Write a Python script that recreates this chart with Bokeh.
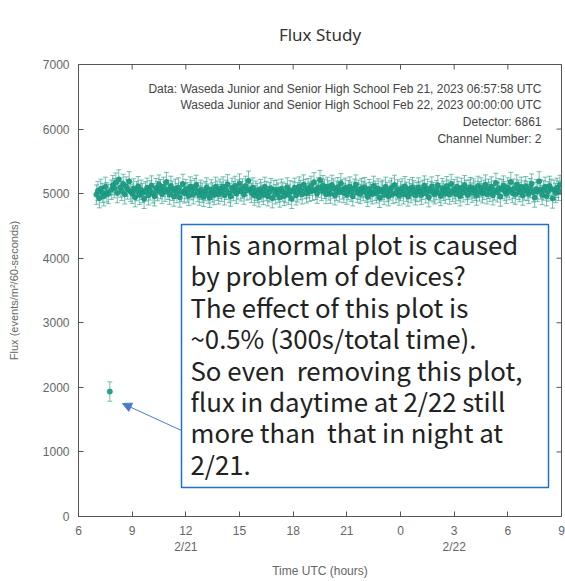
import math
from bokeh.plotting import figure
from bokeh.models import (ColumnDataSource, Whisker, TeeHead, LinearAxis, FixedTicker,
                          Range1d, Label, BoxAnnotation, Arrow, NormalHead)
from bokeh.embed import file_html
from bokeh.resources import INLINE

# ---------------- data ----------------
START_HOUR = 7.0          # first 5-minute bin (UTC hours, Feb 21)
BIN_HOURS = 5.0 / 60.0    # 300 s bins
FLUX_ERR = 150            # typical error bar half-height

flux = [
    4985, 5040, 4930, 5075, 5010, 4960, 5105, 5020, 4995, 1935, 5060, 5130,   # 7h
    5085, 5170, 5010, 5220, 5095, 5045, 5150, 4990, 5110, 5065, 5190, 5030,   # 8h
    5000, 5080, 4945, 5040, 5115, 4980, 5060, 5010, 4920, 5035, 5090, 4975,   # 9h
    5050, 5125, 5005, 4960, 5085, 5040, 5140, 5070, 4995, 5105, 5030, 5180,   # 10h
    5060, 4985, 5120, 5045, 4955, 5075, 5010, 5095, 4940, 5030, 5150, 5005,   # 11h
    5070, 5020, 4965, 5110, 5055, 4990, 5085, 5135, 5025, 4970, 5060, 5015,   # 12h
    4950, 5040, 5095, 5000, 4935, 5065, 5020, 4980, 5105, 5045, 4990, 5075,   # 13h
    5030, 5110, 4975, 5060, 5145, 5010, 4955, 5090, 5040, 5120, 5000, 5065,   # 14h
    5155, 5035, 5080, 4985, 5120, 5050, 5200, 5065, 5010, 5095, 4970, 5045,   # 15h
    5010, 4945, 5070, 5025, 4980, 5105, 5040, 4960, 5020, 5085, 4930, 5055,   # 16h
    4990, 5060, 5015, 4940, 5075, 5030, 4965, 5010, 5095, 4985, 5050, 4920,   # 17h
    5035, 5090, 4975, 5020, 5110, 5055, 4990, 5140, 5070, 5005, 5085, 5030,   # 18h
    5120, 5045, 5175, 5060, 5000, 5095, 5210, 5040, 5130, 5075, 4995, 5105,   # 19h
    5050, 5000, 5135, 5080, 4975, 5045, 5100, 5020, 5160, 5065, 5010, 5090,   # 20h
    4985, 5055, 5110, 5030, 4960, 5075, 5140, 5015, 5060, 4995, 5085, 5040,   # 21h
    5100, 5015, 4950, 5070, 5025, 4990, 5120, 5045, 5005, 5080, 4935, 5035,   # 22h
    5060, 4980, 5105, 5025, 4960, 5050, 5090, 4995, 5135, 5010, 5065, 4970,   # 23h
    5040, 5080, 4990, 5115, 5030, 4955, 5070, 5010, 5100, 5050, 4975, 5025,   # 0h
    5095, 5035, 4980, 5060, 5125, 5005, 5075, 4945, 5040, 5110, 5020, 4990,   # 1h
    5055, 5130, 5010, 4965, 5085, 5045, 5000, 5115, 5060, 4985, 5150, 5030,   # 2h
    5070, 4995, 5105, 5040, 4960, 5090, 5020, 5130, 5055, 4980, 5065, 5100,   # 3h
    5015, 5080, 5045, 4970, 5120, 5035, 5095, 5005, 5060, 5140, 4990, 5075,   # 4h
    5030, 5110, 4975, 5050, 5165, 5020, 5085, 4955, 5070, 5125, 5040, 5000,   # 5h
    5095, 5055, 5180, 5010, 5075, 4985, 5140, 5060, 5025, 5105, 4970, 5050,   # 6h
    5115, 5040, 4995, 5085, 5155, 5020, 4940, 5070, 5030, 5190, 5065, 4980,   # 7h
    5050, 5105, 4960, 5035, 5120, 5075, 4925, 5060, 5010, 5090, 5045, 5135,   # 8h
]

x_ticks = [6, 9, 12, 15, 18, 21, 24, 27, 30, 33]
x_tick_labels = ["6", "9", "12", "15", "18", "21", "0", "3", "6", "9"]
y_ticks = [0, 1000, 2000, 3000, 4000, 5000, 6000, 7000]
date_ticks = [12, 27]
date_labels = ["2/21", "2/22"]

info_lines = [
    "Data: Waseda Junior and Senior High School Feb 21, 2023 06:57:58 UTC",
    "Waseda Junior and Senior High School Feb 22, 2023 00:00:00 UTC",
    "Detector: 6861",
    "Channel Number: 2",
]
note_lines = [
    "This anormal plot is caused",
    "by problem of devices?",
    "The effect of this plot is",
    "~0.5% (300s/total time).",
    "So even\u00a0 removing this plot,",
    "flux in daytime at 2/22 still",
    "more than\u00a0 that in night at",
    "2/21.",
]

hours = [START_HOUR + i * BIN_HOURS for i in range(len(flux))]
src = ColumnDataSource(dict(
    x=hours, y=flux,
    upper=[v + FLUX_ERR for v in flux],
    lower=[v - FLUX_ERR for v in flux],
))

# ---------------- figure ----------------
X0, X1, Y0, Y1 = 6, 33, 0, 7000
W, H = 565, 581
FL, FR, FT, FB = 78, 4, 64, 65
px_x = (X1 - X0) / (W - FL - FR)     # hours per pixel
px_y = (Y1 - Y0) / (H - FT - FB)     # flux per pixel

def dx(px):  # canvas px -> data x
    return X0 + (px - FL) * px_x

def dy(py):  # canvas px -> data y
    return Y1 - (py - FT) * px_y

p = figure(width=W, height=H, x_range=Range1d(X0, X1), y_range=Range1d(Y0, Y1),
           output_backend="svg", toolbar_location=None,
           min_border_left=FL, min_border_right=FR, min_border_top=FT, min_border_bottom=FB,
           background_fill_color="white", border_fill_color="white")
p.grid.visible = False

FRAME = "#555555"
TICKC = "#666666"
LBLFONT = "Liberation Sans"
p.outline_line_color = FRAME
p.outline_line_width = 1

# title
p.title.text = "Flux Study"
p.title.text_font = "Noto Sans"
p.title.text_font_size = "17px"
p.title.text_font_style = "normal"
p.title.text_color = "#333333"
p.title.align = "center"
p.title.text_line_height = 1.0
p.title.standoff = 38

def style_axis(ax):
    ax.axis_line_color = FRAME
    ax.axis_line_width = 1
    ax.major_tick_line_color = FRAME
    ax.major_tick_in = 5
    ax.major_tick_out = 0
    ax.minor_tick_line_color = None
    ax.major_label_text_font = LBLFONT
    ax.major_label_text_color = TICKC
    ax.major_label_text_font_size = "12px"
    ax.axis_label_text_font = LBLFONT
    ax.axis_label_text_font_style = "normal"
    ax.axis_label_text_color = TICKC

p.xaxis.ticker = FixedTicker(ticks=x_ticks)
p.xaxis.major_label_overrides = {t: l for t, l in zip(x_ticks, x_tick_labels)}
p.yaxis.ticker = FixedTicker(ticks=y_ticks)
style_axis(p.xaxis[0])
style_axis(p.yaxis[0])
p.xaxis.major_label_standoff = 9
p.yaxis.major_label_standoff = 9
p.yaxis.axis_label = "Flux (events/m\u00b2/60-seconds)"
p.yaxis.axis_label_text_font_size = "11px"
p.yaxis.axis_label_standoff = 20

# date row under the hour labels
date_ax = LinearAxis(ticker=FixedTicker(ticks=date_ticks),
                     major_label_overrides={t: l for t, l in zip(date_ticks, date_labels)})
style_axis(date_ax)
date_ax.axis_line_color = None
date_ax.major_tick_line_color = None
date_ax.major_label_standoff = 2
date_ax.axis_label = "Time UTC (hours)"
date_ax.axis_label_text_font_size = "12px"
date_ax.axis_label_standoff = 7
p.add_layout(date_ax, "below")

# inward ticks on the top and right edges of the frame
TICK_PX = 5
p.segment(x0=x_ticks, x1=x_ticks, y0=[Y1] * len(x_ticks), y1=[Y1 - TICK_PX * px_y] * len(x_ticks),
          line_color=FRAME, line_width=1)
p.segment(x0=[X1] * len(y_ticks), x1=[X1 - TICK_PX * px_x] * len(y_ticks), y0=y_ticks, y1=y_ticks,
          line_color=FRAME, line_width=1)

# ---------------- data marks ----------------
TEAL = "#17987f"
p.add_layout(Whisker(base="x", upper="upper", lower="lower", source=src,
                     line_color=TEAL, line_alpha=0.6, line_width=1,
                     upper_head=TeeHead(size=5, line_color=TEAL, line_alpha=0.6),
                     lower_head=TeeHead(size=5, line_color=TEAL, line_alpha=0.6)))
p.scatter("x", "y", source=src, size=5, color=TEAL, alpha=0.9)

# ---------------- info texts ----------------
for i, t in enumerate(info_lines):
    p.add_layout(Label(x=dx(541), y=dy(88 + i * 16.7), text=t, text_font=LBLFONT,
                       text_font_size="12px", text_color="#444444",
                       text_align="right", text_baseline="middle"))

# ---------------- note box + arrow ----------------
BLUE_BOX = "#1f72c8"
BLUE_ARROW = "#4a7ccb"
p.add_layout(BoxAnnotation(left=dx(181), right=dx(548), top=dy(224), bottom=dy(487),
                           fill_color="white", fill_alpha=1.0,
                           line_color=BLUE_BOX, line_alpha=1.0, line_width=1.5,
                           level="overlay"))
for i, t in enumerate(note_lines):
    p.add_layout(Label(x=dx(190), y=dy(243 + i * 31.4), text=t,
                       text_font="Noto Sans CJK JP", text_font_size="25.8px",
                       text_color="#222222", text_align="left", text_baseline="middle",
                       level="overlay"))
p.add_layout(Arrow(x_start=dx(181), y_start=dy(430), x_end=dx(122), y_end=dy(403),
                   line_color=BLUE_ARROW, line_width=1,
                   end=NormalHead(size=9, fill_color=BLUE_ARROW, line_color=BLUE_ARROW)))

open("out.html", "w").write(file_html(p, INLINE))
